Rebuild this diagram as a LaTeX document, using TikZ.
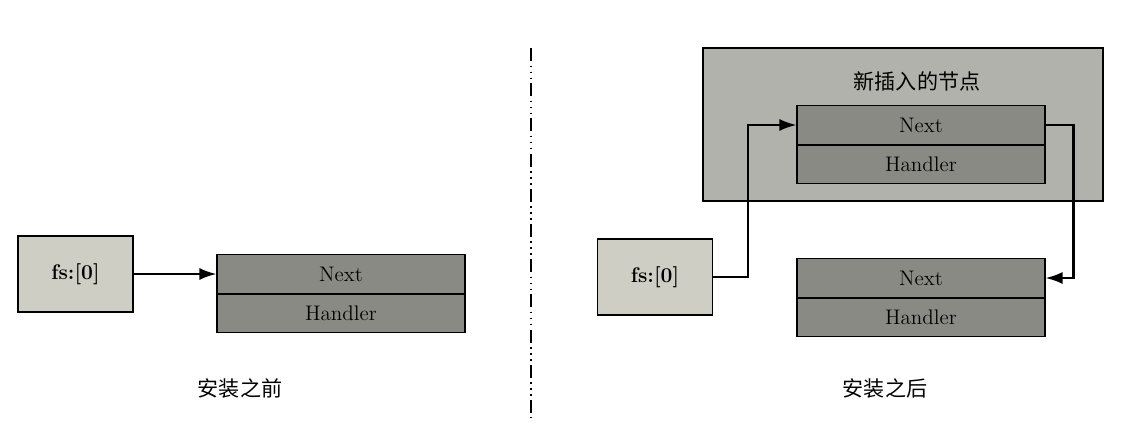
\documentclass[tikz,border=0pt]{standalone}
\usepackage{fontspec}
\newfontfamily\cjk{Noto Sans CJK SC}
\usetikzlibrary{positioning,arrows.meta}

\definecolor{fsgray}{RGB}{206,206,196}
\definecolor{boxgray}{RGB}{178,178,172}
\definecolor{fieldgray}{RGB}{138,138,133}

\tikzset{
  fsbox/.style={draw, line width=0.6pt, fill=fsgray, minimum width=2.3cm, minimum height=1.52cm, font=\fontsize{12}{14}\selectfont\bfseries},
  field/.style={draw, line width=0.6pt, fill=fieldgray, minimum width=4.96cm, minimum height=0.77cm, font=\fontsize{12}{14}\selectfont},
  link/.style={line width=1.2pt, -{Latex[length=3.4mm,width=2.4mm]}},
  caption/.style={font=\fontsize{12}{14}\selectfont\cjk}
}

\begin{document}
\begin{tikzpicture}
  \useasboundingbox (0,0) rectangle (22.68,-8.8);

  % before
  \node[fsbox] (lfs) at (1.51,-5.48) {fs:[0]};
  \node[field] (lnext) at (6.82,-5.48) {Next};
  \node[field, below=0pt of lnext] (lhandler) {Handler};
  \draw[link] (lfs) -- (lnext);
  \node[caption] (lcap) at (4.8,-7.76) {安装之前};

  % separator
  \draw[line width=1.1pt, dash pattern=on 0.26cm off 0.09cm on 0.03cm off 0.09cm on 0.03cm off 0.09cm on 0.03cm off 0.084cm]
    (10.62,-0.96) -- (10.62,-8.36);

  % after
  \node[draw, line width=0.6pt, fill=boxgray, minimum width=8cm, minimum height=3.06cm] (newbox) at (18.06,-2.49) {};
  \node[caption] (newcap) at (18.34,-1.62) {新插入的节点};
  \node[field] (inext) at (18.42,-2.5) {Next};
  \node[field, below=0pt of inext] (ihandler) {Handler};

  \node[fsbox] (rfs) at (13.1,-5.54) {fs:[0]};
  \node[field] (onext) at (18.42,-5.56) {Next};
  \node[field, below=0pt of onext] (ohandler) {Handler};

  \draw[link] (rfs.east) -- ++(0.7,0) |- (inext.west);
  \draw[link] (inext.east) -- ++(0.56,0) |- (onext.east);
  \node[caption] (rcap) at (17.7,-7.76) {安装之后};
\end{tikzpicture}
\end{document}
